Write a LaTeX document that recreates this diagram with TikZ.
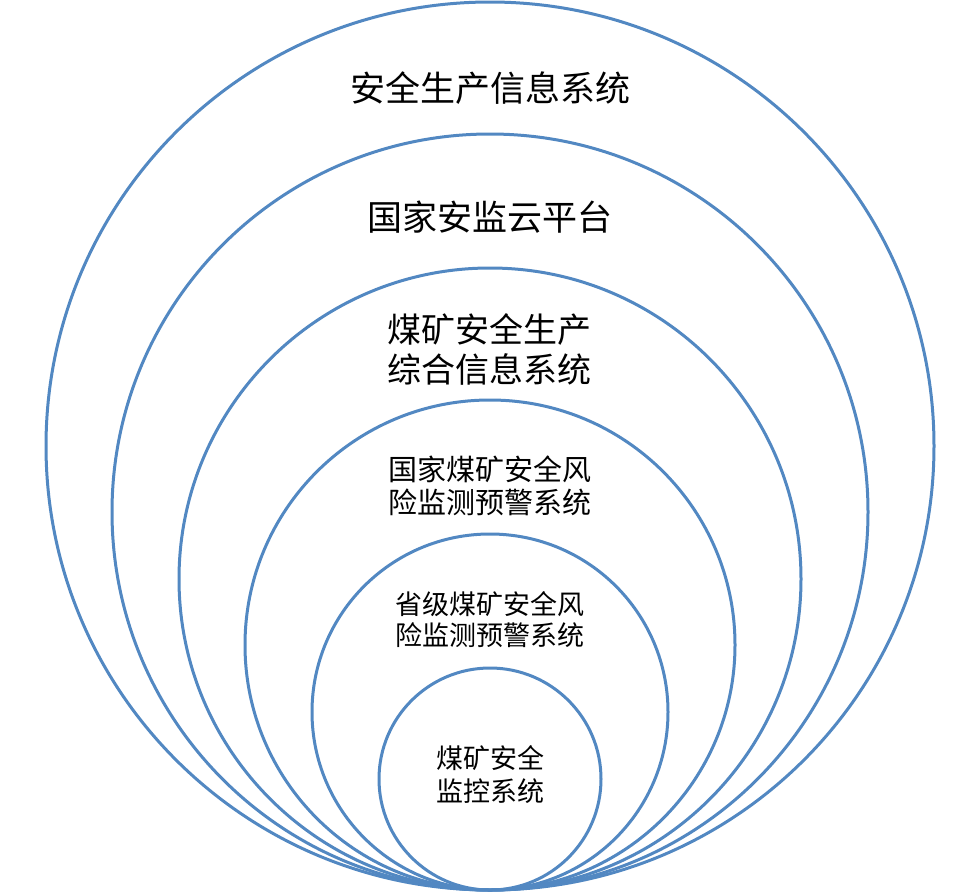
\documentclass[tikz,border=0pt]{standalone}
\usepackage{fontspec}
\setmainfont{Noto Sans CJK SC}
\definecolor{ringblue}{RGB}{82,136,194}
\begin{document}
\begin{tikzpicture}[x=1pt,y=-1pt,
  ring/.style={draw=ringblue,line width=3pt},
  lbl/.style={align=center,inner sep=0pt,text=black}]
\useasboundingbox (0,0) rectangle (980,892);
\draw[ring] (490,446) circle[radius=444];
\draw[ring] (490,512) circle[radius=378];
\draw[ring] (490,579) circle[radius=311];
\draw[ring] (490,645) circle[radius=245];
\draw[ring] (490,712) circle[radius=178];
\draw[ring] (490,779) circle[radius=111];
\node[lbl,font=\fontsize{35}{40}\selectfont] (t1) at (490,88) {安全生产信息系统};
\node[lbl,font=\fontsize{35}{40}\selectfont] (t2) at (490,217) {国家安监云平台};
\node[lbl,font=\fontsize{34}{40}\selectfont] (t3) at (489,349) {煤矿安全生产\\综合信息系统};
\node[lbl,font=\fontsize{29}{33}\selectfont] (t4) at (490,486) {国家煤矿安全风\\险监测预警系统};
\node[lbl,font=\fontsize{27}{31}\selectfont] (t5) at (490,620) {省级煤矿安全风\\险监测预警系统};
\node[lbl,font=\fontsize{27}{33}\selectfont] (t6) at (490,775) {煤矿安全\\监控系统};
\end{tikzpicture}
\end{document}
